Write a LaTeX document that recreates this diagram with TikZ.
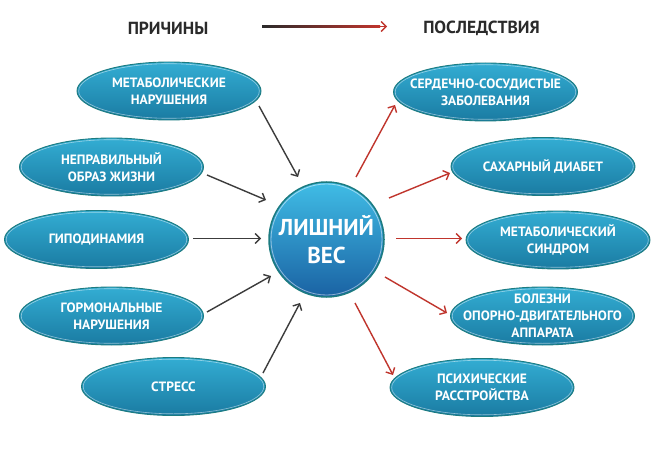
\documentclass[tikz,border=0pt]{standalone}
\usepackage{fontspec}
\setmainfont{PT Sans}
\usetikzlibrary{arrows.meta,calc,shapes.geometric}
\definecolor{ellTop}{HTML}{33ADD3}
\definecolor{ellBot}{HTML}{1A7BA2}
\definecolor{ellEdge}{HTML}{1C7B80}
\definecolor{cirTop}{HTML}{40BDE6}
\definecolor{cirBot}{HTML}{1A62A3}
\definecolor{arrGrey}{HTML}{3C3C3C}
\definecolor{arrRed}{HTML}{C0352D}
\definecolor{headText}{HTML}{2A2A2A}
\tikzset{
  ell/.style={ellipse, minimum width=184pt, minimum height=58pt,
    inner xsep=-40pt, inner ysep=-14pt,
    top color=ellTop, bottom color=ellBot, draw=ellEdge, line width=0.9pt,
    text=white, align=center, font=\fontsize{13.5}{17}\selectfont\bfseries},
  ring/.style={draw=white, opacity=0.5, line width=0.6pt},
  cir/.style={circle, minimum size=115pt, inner sep=-20pt,
    top color=cirTop, bottom color=cirBot, draw=ellEdge, line width=1.5pt,
    text=white, align=center, font=\fontsize{23}{28}\selectfont\bfseries},
  head/.style={text=headText, font=\fontsize{17.5}{19}\selectfont\bfseries},
  arrG/.style={draw=arrGrey, line width=1.4pt, -{Straight Barb[length=5pt,width=10pt]}},
  arrR/.style={draw=arrRed, line width=1.4pt, -{Straight Barb[length=5pt,width=10pt]}},
}
\begin{document}
\begin{tikzpicture}[x=1pt,y=-1pt]
\useasboundingbox (0,0) rectangle (652,454);
\fill[white] (0,0) rectangle (652,454);

% headings
\node[head] (hc) at (168,28) {ПРИЧИНЫ};
\node[head] (hp) at (481.5,28) {ПОСЛЕДСТВИЯ};
\coordinate (ta) at (262,26.5);
\coordinate (tb) at (380,26.5);
\coordinate (tc) at (387,26.5);
\shade[left color=headText, right color=arrRed] ($(ta)+(0,-0.7)$) rectangle ($(tb)+(0,0.7)$);
\draw[arrR] (tb) -- (tc);

% center
\node[cir] (c) at (326.5,239.5) {ЛИШНИЙ\\ВЕС};
\draw[ring, line width=0.8pt] (c.center) circle (55.5);

% causes
\node[ell] (l1) at (169,91) {МЕТАБОЛИЧЕСКИЕ\\НАРУШЕНИЯ};
\node[ell] (l2) at (111.5,167) {НЕПРАВИЛЬНЫЙ\\ОБРАЗ ЖИЗНИ};
\node[ell] (l3) at (96.5,239.5) {ГИПОДИНАМИЯ};
\node[ell] (l4) at (111.5,316) {ГОРМОНАЛЬНЫЕ\\НАРУШЕНИЯ};
\node[ell] (l5) at (173.5,386.5) {СТРЕСС};

% consequences
\node[ell] (r1) at (485.5,92) {СЕРДЕЧНО-СОСУДИСТЫЕ\\ЗАБОЛЕВАНИЯ};
\node[ell] (r2) at (543,166.5) {САХАРНЫЙ ДИАБЕТ};
\node[ell] (r3) at (558,240) {МЕТАБОЛИЧЕСКИЙ\\СИНДРОМ};
\node[ell] (r4) at (542.5,316) {БОЛЕЗНИ\\ОПОРНО-ДВИГАТЕЛЬНОГО\\АППАРАТА};
\node[ell] (r5) at (482,387.5) {ПСИХИЧЕСКИЕ\\РАССТРОЙСТВА};

\foreach \n in {l1,l2,l3,l4,l5,r1,r2,r3,r4,r5}
  \draw[ring] (\n.center) ellipse (90.3 and 27.3);

% arrow end points
\coordinate (a1s) at (259,106); \coordinate (a1e) at (298,177);
\coordinate (a2s) at (207,175); \coordinate (a2e) at (266,200);
\coordinate (a3s) at (193,238.5); \coordinate (a3e) at (261,238.5);
\coordinate (a4s) at (207,312); \coordinate (a4e) at (271,276);
\coordinate (a5s) at (263,373); \coordinate (a5e) at (300,303);

\coordinate (b1s) at (356,177); \coordinate (b1e) at (395,105);
\coordinate (b2s) at (389,198); \coordinate (b2e) at (450,173);
\coordinate (b3s) at (396,238.5); \coordinate (b3e) at (462,238.5);
\coordinate (b4s) at (385,277); \coordinate (b4e) at (447,313);
\coordinate (b5s) at (355,303); \coordinate (b5e) at (393,375);

\foreach \i in {1,...,5} {
  \draw[arrG] (a\i s) -- (a\i e);
  \draw[arrR] (b\i s) -- (b\i e);
}
\end{tikzpicture}
\end{document}
